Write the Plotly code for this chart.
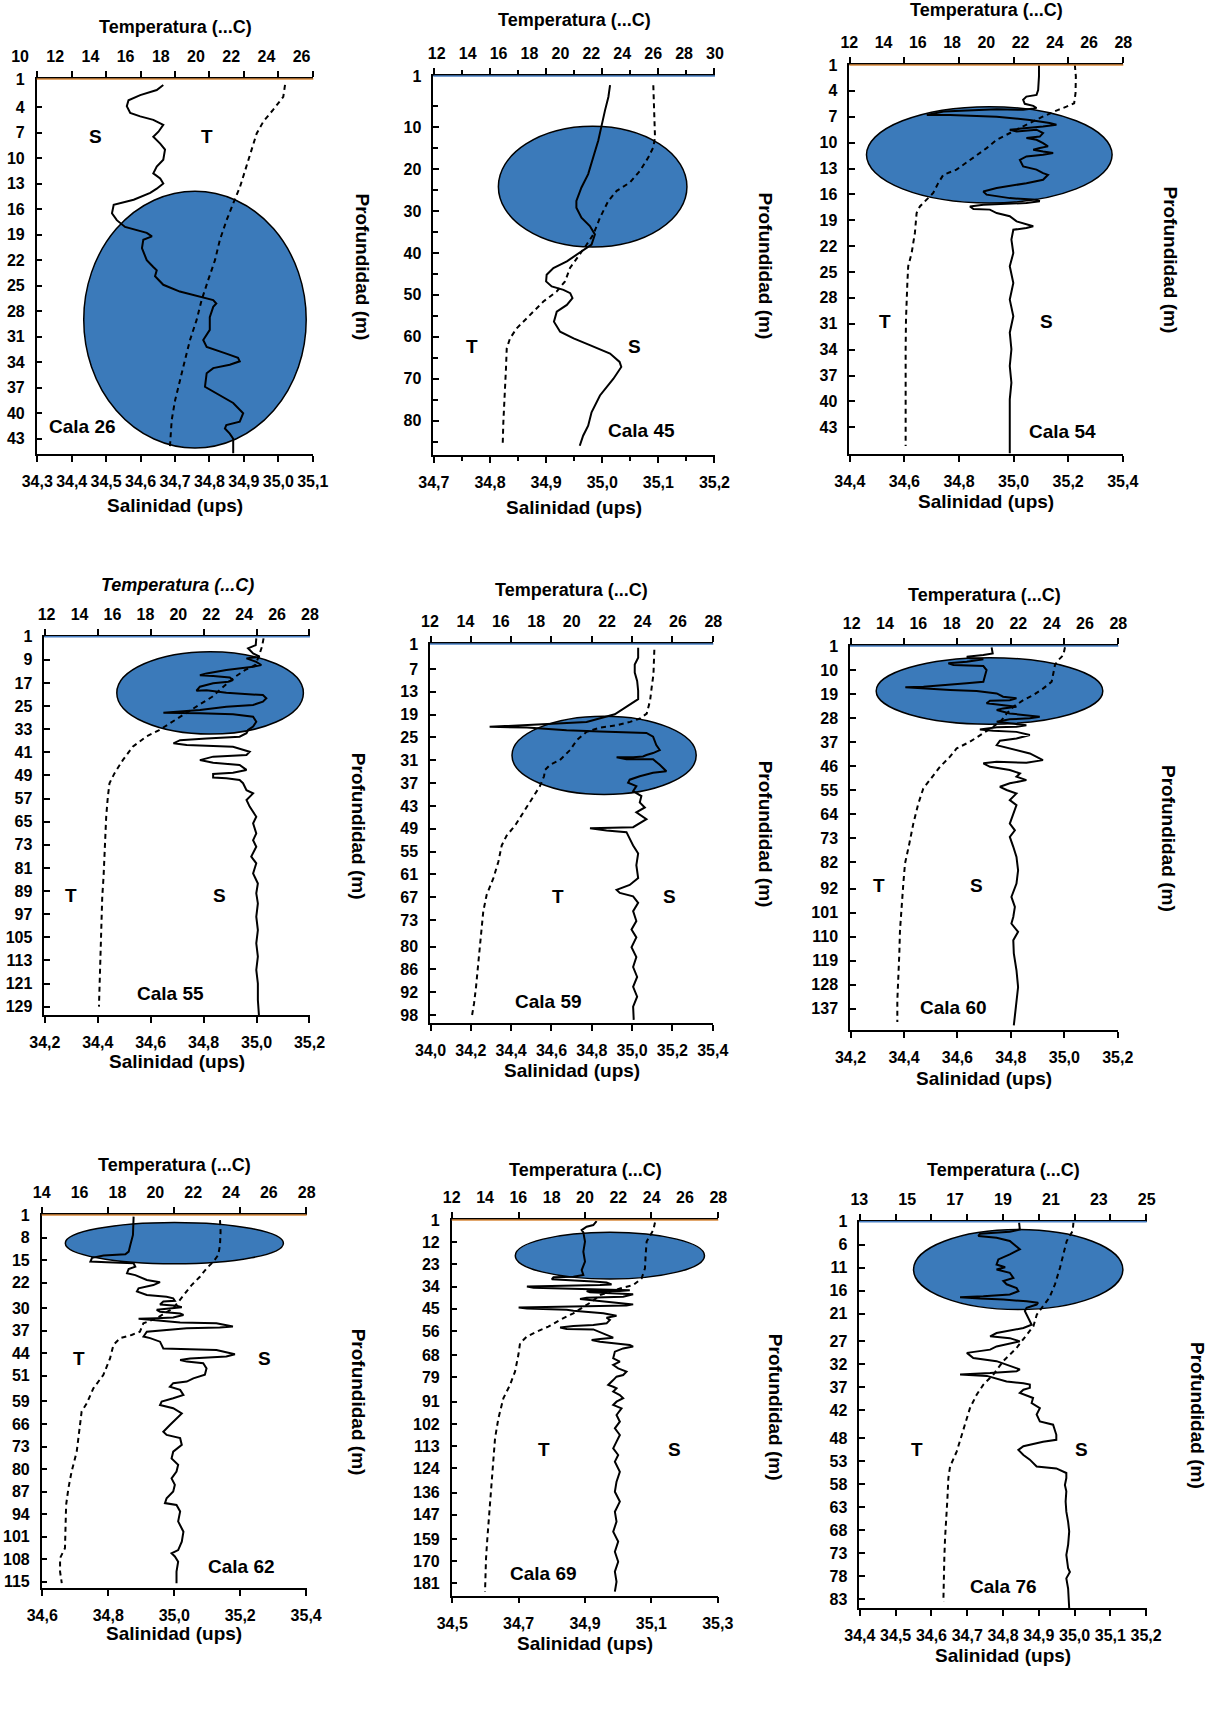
import plotly.graph_objects as go

W, H = 1226, 1717
FONT = "Liberation Sans, Arial, sans-serif"
ELLIPSE_FILL = "#3b7aba"
ORANGE = "#d98a3c"
BLUE = "#4a80c4"

# ---------------- Cala 26 ----------------
C26_SAL_TICKS = [34.3, 34.4, 34.5, 34.6, 34.7, 34.8, 34.9, 35.0, 35.1]
C26_TEMP_TICKS = [10, 12, 14, 16, 18, 20, 22, 24, 26]
C26_DEPTH_LEFT = [1, 4, 7, 10, 13, 16, 19, 22, 25, 28, 31, 34, 37, 40, 43]
C26_DEPTH_RIGHT = [1, 4, 7, 10, 13, 16, 19, 22, 25, 28, 31, 34, 37, 40, 43]
C26_T_TEMP = [25.06, 24.96, 24.39, 23.83, 23.45, 23.16, 22.88, 22.50, 22.12, 21.74, 21.36, 21.08, 20.70, 20.32,
              20.04, 19.66, 19.38, 19.09, 18.81, 18.62, 18.52]
C26_T_DEPTH = [1.4, 2.8, 4.3, 5.7, 7.1, 9.0, 11.0, 13.4, 15.3, 17.3, 19.6, 22.0, 24.3, 26.7, 29.0, 31.4, 33.7,
               36.1, 38.5, 40.8, 43.9]
C26_S_SAL = [34.666, 34.647, 34.599, 34.565, 34.560, 34.570, 34.599, 34.637, 34.666, 34.652, 34.637, 34.657,
             34.671, 34.666, 34.647, 34.637, 34.657, 34.666, 34.647, 34.628, 34.580, 34.522, 34.517, 34.531,
             34.555, 34.589, 34.618, 34.633, 34.608, 34.604, 34.618, 34.637, 34.647, 34.642, 34.666, 34.714,
             34.772, 34.811, 34.820, 34.811, 34.801, 34.801, 34.782, 34.792, 34.849, 34.883, 34.888, 34.859,
             34.811, 34.792, 34.787, 34.820, 34.869, 34.898, 34.888, 34.849, 34.845, 34.859, 34.869, 34.869]
C26_S_DEPTH = [1.4, 2.0, 2.6, 3.2, 3.9, 4.7, 5.1, 5.5, 6.1, 6.9, 7.5, 8.3, 9.0, 10.2, 11.0, 11.8, 12.4, 13.0,
               13.6, 14.1, 14.9, 15.5, 16.5, 17.3, 18.1, 18.5, 18.8, 19.2, 19.6, 20.6, 22.0, 22.8, 23.2, 23.9,
               24.9, 25.7, 26.3, 26.7, 27.1, 27.5, 28.7, 30.2, 31.4, 32.2, 33.0, 33.5, 33.9, 34.3, 34.7, 35.3,
               36.9, 37.7, 38.8, 40.0, 41.0, 41.4, 41.8, 42.4, 43.0, 44.7]
C26_ELLIPSE_SAL = [34.435, 35.081]
C26_ELLIPSE_DEPTH = [13.9, 44.1]

# ---------------- Cala 45 ----------------
C45_SAL_TICKS = [34.7, 34.8, 34.9, 35.0, 35.1, 35.2]
C45_TEMP_TICKS = [12, 14, 16, 18, 20, 22, 24, 26, 28, 30]
C45_DEPTH_LEFT = [1, 10, 20, 30, 40, 50, 60, 70, 80]
C45_DEPTH_RIGHT = [1, 10, 20, 30, 40, 50, 60, 70, 80]
C45_T_TEMP = [26.01, 26.05, 26.07, 26.12, 26.01, 25.69, 25.15, 24.50, 23.64, 23.10, 22.56, 22.13, 21.70, 21.05,
              20.62, 20.30, 19.76, 18.90, 18.03, 17.17, 16.74, 16.53, 16.48, 16.42, 16.35, 16.31, 16.27]
C45_T_DEPTH = [0.0, 3.6, 7.6, 12.4, 14.8, 17.2, 20.4, 23.2, 25.2, 27.6, 31.6, 35.6, 38.0, 41.2, 43.6, 46.8, 49.2,
               51.6, 54.8, 58.0, 60.4, 62.8, 67.6, 71.6, 75.6, 80.4, 85.6]
C45_S_SAL = [35.014, 35.011, 35.005, 34.999, 34.993, 34.984, 34.975, 34.963, 34.954, 34.954, 34.963, 34.978,
             34.987, 34.981, 34.960, 34.937, 34.913, 34.901, 34.900, 34.910, 34.931, 34.943, 34.947, 34.937,
             34.919, 34.914, 34.925, 34.949, 34.978, 35.014, 35.031, 35.034, 35.020, 34.996, 34.981, 34.975,
             34.966, 34.960]
C45_S_DEPTH = [0.0, 2.8, 6.0, 10.0, 13.2, 17.2, 21.2, 24.4, 27.6, 29.2, 31.6, 33.6, 35.6, 38.0, 40.0, 42.0, 43.6,
               45.2, 46.8, 48.0, 48.8, 49.6, 50.8, 52.4, 54.0, 56.4, 58.8, 60.4, 62.0, 64.0, 66.0, 67.2, 70.0,
               74.0, 78.0, 81.2, 83.6, 86.0]
C45_ELLIPSE_SAL = [34.815, 35.151]
C45_ELLIPSE_DEPTH = [9.8, 38.6]

# ---------------- Cala 54 ----------------
C54_SAL_TICKS = [34.4, 34.6, 34.8, 35.0, 35.2, 35.4]
C54_TEMP_TICKS = [12, 14, 16, 18, 20, 22, 24, 26, 28]
C54_DEPTH_LEFT = [1, 4, 7, 10, 13, 16, 19, 22, 25, 28, 31, 34, 37, 40, 43]
C54_DEPTH_RIGHT = [1, 10, 19, 28, 37, 46, 55, 64, 73, 82, 91, 100, 109, 118, 127, 136]
C54_T_TEMP = [25.17, 25.23, 25.21, 25.13, 24.68, 24.20, 23.32, 22.35, 21.38, 20.60, 20.02, 19.04, 18.26, 17.49,
              17.19, 16.90, 16.51, 16.12, 15.93, 15.83, 15.64, 15.44, 15.39, 15.35, 15.31, 15.29, 15.29, 15.29, 15.29]
C54_T_DEPTH = [1.0, 5.0, 10.8, 14.3, 15.5, 16.6, 18.9, 21.8, 24.7, 27.0, 29.9, 34.0, 37.4, 39.2, 42.1, 45.5, 47.9,
               50.2, 52.5, 59.4, 66.4, 71.0, 76.8, 82.6, 89.5, 99.9, 111.5, 123.1, 133.5]
C54_S_SAL = [35.093, 35.093, 35.090, 35.084, 35.047, 35.035, 35.041, 35.072, 35.084, 35.035,
             34.938, 34.743, 34.682, 34.767, 34.938, 35.059, 35.132, 35.157, 35.108, 35.035,
             34.986, 35.011, 35.084, 35.108, 35.096, 35.047, 35.084, 35.108, 35.126, 35.096,
             35.072, 35.108, 35.145, 35.108, 35.047, 35.023, 35.035, 35.084, 35.108, 35.126,
             35.108, 35.047, 34.938, 34.889, 34.901, 34.986, 35.084, 35.096, 35.047, 34.889,
             34.840, 34.853, 34.913, 34.938, 34.986, 35.011, 35.047, 35.072, 35.047, 34.999,
             34.992, 34.999, 34.986, 34.999, 34.986, 34.999, 34.986, 34.992, 34.986, 34.992,
             34.986, 34.986, 34.984, 34.986]
C54_S_DEPTH = [1.0, 5.0, 9.7, 11.4, 12.0, 13.1, 14.5, 15.2, 16.0, 16.6,
               16.4, 17.2, 18.4, 18.4, 19.0, 20.1, 21.2, 21.8, 22.4, 23.0,
               23.5, 24.1, 23.5, 24.7, 25.9, 26.4, 27.0, 28.2, 29.3, 29.9,
               30.5, 31.1, 31.6, 32.2, 32.8, 34.0, 36.3, 37.4, 38.6, 39.2,
               40.9, 42.1, 43.8, 45.0, 46.1, 47.3, 47.9, 48.4, 49.0, 49.6,
               50.2, 51.1, 51.3, 52.5, 53.6, 55.4, 56.5, 57.1, 57.7, 58.3,
               61.7, 66.4, 71.0, 76.8, 82.6, 88.4, 94.1, 99.9, 105.7, 111.5,
               117.3, 123.1, 128.9, 136.0]
C54_ELLIPSE_SAL = [34.461, 35.361]
C54_ELLIPSE_DEPTH = [15.5, 49.0]

# ---------------- Cala 55 ----------------
C55_SAL_TICKS = [34.2, 34.4, 34.6, 34.8, 35.0, 35.2]
C55_TEMP_TICKS = [12, 14, 16, 18, 20, 22, 24, 26, 28]
C55_DEPTH_LEFT = [1, 9, 17, 25, 33, 41, 49, 57, 65, 73, 81, 89, 97, 105, 113, 121, 129]
C55_DEPTH_RIGHT = [1, 9, 17, 25, 33, 41, 49, 57, 65, 73, 81, 89, 97, 105, 113, 121, 129]
C55_T_TEMP = [25.18, 25.08, 24.88, 24.68, 24.07, 23.47, 22.86, 22.06, 21.26, 20.45, 19.65, 18.84, 18.04, 17.23,
              16.63, 16.12, 15.82, 15.72, 15.62, 15.58, 15.52, 15.46, 15.38, 15.34, 15.30, 15.26, 15.22, 15.18]
C55_T_DEPTH = [1.6, 4.5, 7.9, 10.8, 12.5, 14.8, 17.7, 21.8, 24.6, 27.5, 30.4, 33.3, 35.6, 39.1, 43.7, 48.3, 51.7,
               56.4, 63.3, 70.2, 77.1, 84.0, 91.0, 97.9, 104.8, 111.7, 118.6, 129.0]
C55_S_SAL = [34.999, 34.997, 34.968, 34.987, 35.012, 34.962, 34.999, 35.018, 34.987, 34.936,
             34.886, 34.811, 34.786, 34.836, 34.899, 34.911, 34.893, 34.836, 34.786, 34.773,
             34.811, 34.886, 34.974, 35.024, 35.037, 35.024, 34.987, 34.886, 34.786, 34.711,
             34.648, 34.786, 34.911, 34.987, 34.999, 34.987, 34.968, 34.962, 34.936, 34.811,
             34.711, 34.686, 34.736, 34.911, 34.974, 34.962, 34.836, 34.786, 34.836, 34.936,
             34.962, 34.911, 34.836, 34.836, 34.886, 34.936, 34.949, 34.962, 34.987, 34.962,
             34.974, 34.999, 34.987, 34.999, 34.987, 34.999, 34.980, 34.999, 34.987, 35.005,
             34.999, 35.005, 34.999, 35.005, 34.999, 35.005, 34.999, 35.005, 35.005, 35.009]
C55_S_DEPTH = [1.6, 3.9, 5.0, 6.8, 7.9, 8.5, 9.7, 10.8, 11.4, 12.0,
               12.5, 13.7, 14.3, 14.6, 15.1, 16.0, 16.6, 17.1, 18.3, 19.7,
               19.5, 20.4, 20.8, 21.2, 22.3, 23.5, 24.6, 25.2, 26.4, 27.0,
               27.3, 27.5, 27.8, 28.7, 30.4, 32.1, 33.3, 34.4, 35.6, 36.2,
               36.8, 37.9, 38.5, 39.1, 40.8, 41.9, 42.5, 43.7, 44.6, 45.4,
               47.1, 48.1, 48.5, 49.7, 50.0, 50.6, 51.7, 54.1, 55.2, 57.5,
               59.8, 63.3, 65.6, 69.1, 71.4, 73.7, 77.1, 79.4, 82.9, 86.4,
               89.8, 93.3, 97.9, 102.5, 107.1, 111.7, 116.3, 121.0, 126.7, 131.9]
C55_ELLIPSE_SAL = [34.472, 35.177]
C55_ELLIPSE_DEPTH = [6.2, 34.7]

# ---------------- Cala 59 ----------------
C59_SAL_TICKS = [34.0, 34.2, 34.4, 34.6, 34.8, 35.0, 35.2, 35.4]
C59_TEMP_TICKS = [12, 14, 16, 18, 20, 22, 24, 26, 28]
C59_DEPTH_LEFT = [1, 7, 13, 19, 25, 31, 37, 43, 49, 55, 61, 67, 73, 80, 86, 92, 98]
C59_DEPTH_RIGHT = [1, 7, 13, 19, 25, 31, 37, 43, 49, 55, 61, 67, 73, 80, 86, 92, 98]
C59_T_TEMP = [24.67, 24.66, 24.62, 24.52, 24.43, 24.24, 23.86, 23.30, 22.55, 21.60, 20.85, 20.29, 19.91, 19.34,
              18.78, 18.50, 18.44, 18.21, 17.74, 17.27, 16.80, 16.33, 16.05, 15.86, 15.58, 15.20, 15.01, 14.92,
              14.82, 14.73, 14.60, 14.49, 14.35]
C59_T_DEPTH = [1.9, 4.9, 8.4, 11.8, 15.3, 18.7, 20.0, 20.9, 21.8, 22.4, 23.5, 25.7, 28.3, 30.9, 32.2, 33.5, 35.2,
               37.8, 41.3, 44.7, 48.2, 50.8, 53.4, 57.7, 62.0, 66.4, 70.7, 75.0, 80.2, 85.4, 90.6, 94.9, 98.8]
C59_S_SAL = [35.030, 35.030, 35.013, 35.013, 35.025, 35.030, 35.030, 34.972, 34.914, 34.774,
             34.478, 34.293, 34.478, 34.544, 34.675, 34.840, 35.071, 35.104, 35.120, 35.137,
             35.104, 35.071, 35.054, 35.005, 34.923, 34.972, 35.104, 35.137, 35.153, 35.170,
             35.104, 35.038, 34.988, 34.980, 35.021, 35.005, 35.046, 35.038, 35.063, 35.021,
             35.071, 35.005, 34.791, 34.873, 34.972, 34.988, 35.005, 35.030, 35.021, 35.030,
             34.988, 34.923, 34.939, 35.005, 35.030, 35.005, 35.021, 34.997, 35.021, 34.997,
             35.021, 35.005, 35.025, 35.005, 35.025, 35.005, 35.008]
C59_S_DEPTH = [1.4, 4.0, 5.8, 7.9, 10.1, 12.7, 14.9, 17.0, 18.9, 20.9,
               21.8, 22.2, 22.4, 22.6, 23.1, 23.4, 23.8, 24.8, 27.0, 28.3,
               29.1, 29.6, 30.0, 30.2, 30.2, 30.7, 30.7, 32.2, 33.0, 33.9,
               34.3, 35.2, 36.1, 36.9, 37.8, 39.1, 40.4, 42.1, 43.4, 44.7,
               46.5, 48.6, 48.9, 49.5, 49.9, 51.6, 53.4, 55.5, 58.6, 62.0,
               63.8, 65.1, 65.9, 66.8, 68.5, 70.7, 73.3, 75.5, 77.6, 80.2,
               82.8, 85.4, 88.0, 90.6, 93.2, 95.8, 99.3]
C59_ELLIPSE_SAL = [34.404, 35.318]
C59_ELLIPSE_DEPTH = [19.4, 40.0]

# ---------------- Cala 60 ----------------
C60_SAL_TICKS = [34.2, 34.4, 34.6, 34.8, 35.0, 35.2]
C60_TEMP_TICKS = [12, 14, 16, 18, 20, 22, 24, 26, 28]
C60_DEPTH_LEFT = [1, 10, 19, 28, 37, 46, 55, 64, 73, 82, 92, 101, 110, 119, 128, 137]
C60_DEPTH_RIGHT = [1, 10, 19, 28, 37, 46, 55, 64, 73, 82, 92, 101, 110, 119, 128, 137]
C60_T_TEMP = [24.8, 24.7, 24.4, 24.2, 24.1, 24.0, 23.5, 22.9, 22.3, 21.7, 21.3, 21.0, 20.5, 19.9, 19.1, 18.3,
              17.9, 17.3, 16.7, 16.3, 16.0, 15.7, 15.46, 15.2, 15.1, 15.0, 14.9, 14.86, 14.8, 14.74, 14.74]
C60_T_DEPTH = [1.5, 4.4, 6.3, 8.1, 11.3, 14.4, 16.9, 19.4, 21.3, 23.8, 26.3, 28.8, 31.3, 33.8, 36.9, 39.4, 42.5,
               46.3, 51.3, 54.4, 60.1, 67.6, 75.1, 82.6, 90.1, 98.8, 107.6, 116.3, 125.1, 133.9, 142.0]
C60_S_SAL = [34.728, 34.732, 34.697, 34.635, 34.647, 34.697, 34.635, 34.566, 34.585, 34.697,
             34.709, 34.703, 34.697, 34.635, 34.573, 34.473, 34.405, 34.461, 34.573, 34.672,
             34.747, 34.771, 34.821, 34.796, 34.722, 34.709, 34.771, 34.821, 34.771, 34.747,
             34.796, 34.858, 34.908, 34.871, 34.796, 34.747, 34.796, 34.858, 34.821, 34.747,
             34.684, 34.734, 34.821, 34.871, 34.821, 34.759, 34.747, 34.796, 34.871, 34.920,
             34.858, 34.747, 34.697, 34.722, 34.796, 34.834, 34.821, 34.858, 34.796, 34.759,
             34.784, 34.821, 34.796, 34.821, 34.809, 34.796, 34.815, 34.796, 34.809, 34.821,
             34.827, 34.821, 34.802, 34.815, 34.809, 34.802, 34.827, 34.809, 34.811, 34.821,
             34.827, 34.821, 34.811]
C60_S_DEPTH = [1.5, 3.8, 4.4, 5.0, 5.6, 6.0, 6.9, 7.5, 8.1, 8.5,
               10.0, 12.5, 14.4, 15.0, 15.6, 16.3, 16.5, 16.9, 17.5, 17.9,
               18.8, 20.0, 20.6, 21.3, 21.5, 22.5, 23.1, 23.8, 24.4, 25.0,
               26.3, 26.9, 27.5, 28.1, 28.5, 29.4, 30.0, 30.7, 31.3, 31.5,
               32.3, 32.8, 33.2, 34.4, 35.7, 36.5, 38.2, 39.4, 41.3, 43.8,
               44.8, 44.4, 45.0, 46.3, 47.5, 48.8, 50.0, 51.3, 52.5, 53.8,
               55.0, 56.3, 58.8, 60.7, 63.8, 67.6, 70.1, 72.6, 76.3, 80.1,
               85.1, 90.1, 95.1, 98.8, 102.6, 105.1, 108.2, 111.3, 116.3, 122.6,
               128.9, 135.1, 143.3]
C60_ELLIPSE_SAL = [34.296, 35.144]
C60_ELLIPSE_DEPTH = [5.4, 30.3]

# ---------------- Cala 62 ----------------
C62_SAL_TICKS = [34.6, 34.8, 35.0, 35.2, 35.4]
C62_TEMP_TICKS = [14, 16, 18, 20, 22, 24, 26, 28]
C62_DEPTH_LEFT = [1, 8, 15, 22, 30, 37, 44, 51, 59, 66, 73, 80, 87, 94, 101, 108, 115]
C62_DEPTH_RIGHT = [1, 8, 15, 22, 30, 37, 44, 51, 59, 66, 73, 80, 87, 94, 101, 108, 115]
C62_T_TEMP = [23.42, 23.45, 23.42, 23.33, 23.07, 22.71, 22.36, 21.92, 21.57, 21.22, 20.95, 20.07, 19.37, 19.19,
              18.75, 18.14, 17.79, 17.61, 17.26, 16.73, 16.38, 16.11, 15.99, 15.85, 15.58, 15.41, 15.29, 15.25,
              15.23, 14.97, 14.97, 15.06]
C62_T_DEPTH = [2.6, 6.2, 10.3, 13.4, 15.5, 17.6, 20.2, 22.8, 25.4, 27.9, 30.0, 33.1, 34.7, 37.3, 38.3, 39.3, 41.4,
               45.6, 50.7, 54.9, 59.6, 62.1, 68.4, 74.6, 80.8, 86.0, 91.2, 98.4, 104.6, 107.7, 111.9, 115.5]
C62_S_SAL = [34.877, 34.877, 34.875, 34.867, 34.862, 34.852, 34.786, 34.751, 34.746, 34.796,
             34.877, 34.882, 34.862, 34.857, 34.882, 34.917, 34.957, 34.937, 34.892, 34.887,
             34.917, 34.977, 34.997, 35.002, 34.967, 34.957, 35.007, 35.023, 34.987, 34.947,
             34.957, 35.018, 35.028, 34.997, 34.947, 34.892, 34.927, 35.018, 35.128, 35.178,
             35.138, 35.038, 34.917, 34.907, 34.927, 34.957, 34.967, 35.018, 35.128, 35.184,
             35.158, 35.048, 35.018, 35.038, 35.088, 35.098, 35.093, 35.058, 35.038, 34.997,
             34.987, 35.018, 35.028, 34.997, 34.962, 34.957, 34.997, 35.023, 35.007, 34.987,
             34.967, 34.977, 35.018, 35.023, 34.997, 34.992, 35.012, 35.007, 34.992, 35.002,
             34.997, 34.977, 34.972, 35.007, 35.018, 35.012, 35.028, 35.023, 35.012, 34.992,
             35.002, 35.012, 35.007, 35.007]
C62_S_DEPTH = [1.5, 4.1, 7.2, 10.3, 12.4, 13.2, 13.6, 14.3, 15.5, 15.7,
               16.0, 17.1, 17.8, 19.1, 19.7, 21.2, 21.9, 22.8, 23.8, 24.8,
               25.9, 26.4, 26.9, 27.7, 27.9, 28.8, 29.2, 29.7, 30.0, 30.5,
               31.1, 31.6, 32.1, 32.9, 33.1, 33.3, 33.6, 34.4, 34.7, 35.7,
               36.0, 36.2, 37.3, 38.8, 39.3, 40.4, 42.5, 42.7, 43.0, 44.3,
               45.0, 45.6, 46.1, 46.6, 47.1, 48.7, 50.7, 51.8, 52.8, 53.3,
               54.4, 55.4, 57.0, 58.0, 59.0, 60.1, 61.1, 62.7, 64.2, 66.3,
               68.4, 69.4, 70.4, 72.5, 74.6, 76.7, 78.7, 80.8, 82.9, 84.9,
               87.0, 89.1, 90.6, 91.2, 93.2, 96.3, 99.5, 102.6, 105.2, 106.2,
               107.2, 108.8, 111.9, 115.5]
C62_ELLIPSE_SAL = [34.670, 35.331]
C62_ELLIPSE_DEPTH = [3.3, 16.2]

# ---------------- Cala 69 ----------------
C69_SAL_TICKS = [34.5, 34.7, 34.9, 35.1, 35.3]
C69_TEMP_TICKS = [12, 14, 16, 18, 20, 22, 24, 26, 28]
C69_DEPTH_LEFT = [1, 12, 23, 34, 45, 56, 68, 79, 91, 102, 113, 124, 136, 147, 159, 170, 181]
C69_DEPTH_RIGHT = [1, 12, 23, 34, 45, 56, 68, 79, 91, 102, 113, 124, 136, 147, 159, 170, 181]
C69_T_TEMP = [24.2, 24.1, 23.9, 23.7, 23.64, 23.6, 23.4, 22.9, 22.1, 21.5, 20.9, 20.4, 19.8, 19.3, 18.5, 17.8,
              17.1, 16.5, 16.1, 16.0, 15.8, 15.5, 15.1, 14.8, 14.6, 14.5, 14.4, 14.3, 14.2, 14.14, 14.06, 14.0, 14.0]
C69_T_DEPTH = [2.2, 6.0, 8.8, 11.7, 18.3, 24.9, 29.9, 33.2, 34.9, 36.5, 38.2, 41.5, 44.8, 47.2, 50.5, 53.8, 56.3,
               58.8, 62.1, 67.9, 76.1, 82.7, 89.3, 99.3, 109.2, 119.1, 129.0, 138.9, 148.8, 158.7, 168.6, 178.5,
               185.1]
C69_S_SAL = [34.935, 34.925, 34.905, 34.890, 34.895, 34.900, 34.895, 34.900, 34.890, 34.895,
             34.865, 34.805, 34.800, 34.845, 34.905, 34.925, 34.965, 34.980, 34.945, 34.875,
             34.785, 34.725, 34.745, 34.865, 34.945, 34.965, 35.035, 35.005, 34.905, 34.915,
             34.985, 35.045, 35.015, 34.905, 34.885, 34.945, 35.045, 35.025, 34.905, 34.745,
             34.700, 34.725, 34.795, 34.845, 34.865, 34.955, 34.995, 34.965, 34.975, 34.965,
             34.925, 34.865, 34.825, 34.845, 34.925, 34.945, 34.965, 34.985, 34.945, 34.920,
             34.945, 34.985, 35.035, 35.045, 35.015, 34.990, 34.985, 35.005, 34.985, 35.000,
             35.025, 35.015, 34.995, 34.985, 34.970, 34.985, 34.995, 34.985, 35.005, 35.015,
             34.995, 34.985, 35.010, 34.995, 35.005, 34.990, 35.005, 34.995, 34.985, 35.000,
             34.990, 35.005, 34.995, 34.990, 35.005, 34.990, 34.995, 34.985, 35.000, 34.990,
             35.000, 34.990, 34.995, 34.990]
C69_S_DEPTH = [1.5, 3.5, 4.3, 6.0, 7.1, 11.7, 16.7, 21.6, 25.8, 28.2,
               29.1, 29.4, 30.4, 30.7, 31.2, 31.5, 32.0, 32.9, 33.2, 33.5,
               33.9, 34.0, 34.5, 34.9, 35.2, 35.5, 35.8, 36.2, 36.2, 36.8,
               37.3, 37.8, 39.0, 39.5, 40.1, 41.1, 42.8, 43.4, 43.8, 44.1,
               44.4, 44.8, 45.1, 45.4, 45.9, 47.2, 48.4, 49.4, 50.5, 52.2,
               53.0, 53.5, 54.3, 55.0, 55.2, 56.6, 58.3, 59.3, 59.9, 60.4,
               61.3, 62.1, 62.9, 63.7, 64.6, 66.2, 69.5, 71.2, 72.8, 74.5,
               76.1, 77.8, 78.6, 80.3, 82.7, 83.6, 84.4, 86.0, 87.7, 89.3,
               91.0, 92.6, 94.3, 97.6, 100.9, 104.2, 107.5, 110.8, 114.1, 117.4,
               120.7, 125.7, 130.6, 135.6, 140.5, 145.5, 150.4, 155.4, 160.3, 165.3,
               170.3, 175.2, 180.2, 185.1]
C69_ELLIPSE_SAL = [34.690, 35.260]
C69_ELLIPSE_DEPTH = [7.1, 30.2]

# ---------------- Cala 76 ----------------
C76_SAL_TICKS = [34.4, 34.5, 34.6, 34.7, 34.8, 34.9, 35.0, 35.1, 35.2]
C76_TEMP_TICKS = [13, 15, 17, 19, 21, 23, 25]
C76_DEPTH_LEFT = [1, 6, 11, 16, 21, 27, 32, 37, 42, 48, 53, 58, 63, 68, 73, 78, 83]
C76_DEPTH_RIGHT = [1, 6, 11, 16, 21, 27, 32, 37, 42, 48, 53, 58, 63, 68, 73, 78, 83]
C76_T_TEMP = [21.94, 21.91, 21.66, 21.52, 21.38, 21.17, 20.94, 20.62, 20.41, 20.27, 19.99, 19.57, 19.01, 18.60,
              18.18, 17.90, 17.62, 17.41, 17.27, 17.07, 16.79, 16.72, 16.68, 16.62, 16.58, 16.55, 16.54, 16.51]
C76_T_DEPTH = [1.2, 3.0, 5.2, 8.1, 11.0, 14.6, 17.5, 19.7, 21.2, 23.7, 25.5, 28.4, 31.3, 34.2, 36.4, 38.6, 41.5,
               45.1, 48.0, 50.9, 54.2, 56.7, 61.1, 65.4, 69.8, 74.1, 78.5, 83.6]
C76_S_SAL = [34.845, 34.847, 34.819, 34.736, 34.731, 34.782, 34.819, 34.838, 34.847, 34.819,
             34.787, 34.782, 34.806, 34.782, 34.819, 34.829, 34.801, 34.810, 34.838, 34.843,
             34.819, 34.745, 34.680, 34.736, 34.801, 34.866, 34.898, 34.894, 34.866, 34.861,
             34.871, 34.880, 34.857, 34.782, 34.764, 34.819, 34.847, 34.810, 34.782, 34.764,
             34.699, 34.717, 34.782, 34.847, 34.838, 34.764, 34.680, 34.755, 34.810, 34.857,
             34.875, 34.875, 34.857, 34.847, 34.884, 34.880, 34.903, 34.894, 34.903, 34.940,
             34.949, 34.949, 34.912, 34.857, 34.843, 34.857, 34.875, 34.894, 34.949, 34.977,
             34.977, 34.973, 34.977, 34.975, 34.977, 34.982, 34.985, 34.982, 34.977, 34.982,
             34.987, 34.977, 34.982, 34.985]
C76_S_DEPTH = [1.2, 2.7, 3.2, 3.6, 4.1, 4.5, 5.2, 6.3, 7.0, 8.1,
               9.2, 10.3, 10.9, 11.4, 12.1, 13.2, 13.9, 14.6, 15.4, 16.1,
               16.8, 17.2, 17.4, 17.7, 17.9, 18.3, 18.6, 19.0, 19.7, 20.4,
               21.9, 23.4, 24.1, 25.2, 25.9, 26.3, 27.0, 27.6, 28.1, 28.8,
               29.5, 30.6, 31.3, 33.1, 33.5, 33.9, 34.2, 34.5, 35.7, 36.1,
               36.4, 37.1, 37.5, 38.2, 39.3, 40.4, 41.5, 42.9, 44.4, 45.1,
               47.3, 48.4, 48.8, 49.8, 50.6, 51.7, 52.7, 54.2, 54.6, 55.6,
               56.7, 58.2, 59.6, 61.8, 64.0, 66.2, 68.3, 71.2, 73.4, 76.3,
               77.1, 78.5, 80.7, 85.0]
C76_ELLIPSE_SAL = [34.550, 35.135]
C76_ELLIPSE_DEPTH = [2.7, 20.1]

# ---------------- panel layout (pixel boxes, axis calibration, label spots) ----------------
PANELS = [
    dict(name="Cala 26", sal=C26_SAL_TICKS, temp=C26_TEMP_TICKS, dl=C26_DEPTH_LEFT, dr=C26_DEPTH_RIGHT,
         tt=C26_T_TEMP, td=C26_T_DEPTH, ss=C26_S_SAL, sd=C26_S_DEPTH, es=C26_ELLIPSE_SAL, ed=C26_ELLIPSE_DEPTH,
         box=(36.7, 313.3, 79, 454), tedge=(10.947, 26.667), drange=(0.7, 44.8), topc=ORANGE,
         ty=27, sy=505, px=362, lab_s=(34.469, 7.5), lab_t=(34.792, 7.5), lab_c=(34.43, 41.6), italic=False),
    dict(name="Cala 45", sal=C45_SAL_TICKS, temp=C45_TEMP_TICKS, dl=C45_DEPTH_LEFT, dr=C45_DEPTH_RIGHT,
         tt=C45_T_TEMP, td=C45_T_DEPTH, ss=C45_S_SAL, sd=C45_S_DEPTH, es=C45_ELLIPSE_SAL, ed=C45_ELLIPSE_DEPTH,
         box=(433.3, 715, 76, 455), tedge=(11.78, 30.0), drange=(-2.2, 88.2), topc=BLUE,
         ty=20, sy=508, px=765, lab_s=(35.058, 62.4), lab_t=(34.768, 62.4), lab_c=(35.07, 82.4), italic=False),
    dict(name="Cala 54", sal=C54_SAL_TICKS, temp=C54_TEMP_TICKS, dl=C54_DEPTH_LEFT, dr=C54_DEPTH_RIGHT,
         tt=C54_T_TEMP, td=C54_T_DEPTH, ss=C54_S_SAL, sd=C54_S_DEPTH, es=C54_ELLIPSE_SAL, ed=C54_ELLIPSE_DEPTH,
         box=(849.3, 1123.3, 65, 454), tedge=(12.0, 28.0), drange=(1.0, 136.3), topc=ORANGE,
         ty=10, sy=502, px=1170, lab_s=(35.12, 90.1), lab_t=(34.53, 90.1), lab_c=(35.181, 128.3), italic=False),
    dict(name="Cala 55", sal=C55_SAL_TICKS, temp=C55_TEMP_TICKS, dl=C55_DEPTH_LEFT, dr=C55_DEPTH_RIGHT,
         tt=C55_T_TEMP, td=C55_T_DEPTH, ss=C55_S_SAL, sd=C55_S_DEPTH, es=C55_ELLIPSE_SAL, ed=C55_ELLIPSE_DEPTH,
         box=(44.3, 310, 636.7, 1015), tedge=(11.86, 28.0), drange=(1.0, 131.9), topc=BLUE,
         ty=585, sy=1061.7, px=358, lab_s=(34.861, 90.4), lab_t=(34.297, 90.4), lab_c=(34.673, 124.4), italic=True),
    dict(name="Cala 59", sal=C59_SAL_TICKS, temp=C59_TEMP_TICKS, dl=C59_DEPTH_LEFT, dr=C59_DEPTH_RIGHT,
         tt=C59_T_TEMP, td=C59_T_DEPTH, ss=C59_S_SAL, sd=C59_S_DEPTH, es=C59_ELLIPSE_SAL, ed=C59_ELLIPSE_DEPTH,
         box=(430, 713.3, 644, 1023.3), tedge=(12.0, 28.0), drange=(0.4, 100.2), topc=BLUE,
         ty=590, sy=1070, px=765, lab_s=(35.186, 66.8), lab_t=(34.634, 66.8), lab_c=(34.585, 94.5), italic=False),
    dict(name="Cala 60", sal=C60_SAL_TICKS, temp=C60_TEMP_TICKS, dl=C60_DEPTH_LEFT, dr=C60_DEPTH_RIGHT,
         tt=C60_T_TEMP, td=C60_T_DEPTH, ss=C60_S_SAL, sd=C60_S_DEPTH, es=C60_ELLIPSE_SAL, ed=C60_ELLIPSE_DEPTH,
         box=(850, 1118.3, 646, 1030), tedge=(11.9, 28.0), drange=(1.0, 145.0), topc=BLUE,
         ty=595, sy=1078, px=1168, lab_s=(34.672, 90.7), lab_t=(34.306, 90.7), lab_c=(34.585, 136.4), italic=False),
    dict(name="Cala 62", sal=C62_SAL_TICKS, temp=C62_TEMP_TICKS, dl=C62_DEPTH_LEFT, dr=C62_DEPTH_RIGHT,
         tt=C62_T_TEMP, td=C62_T_DEPTH, ss=C62_S_SAL, sd=C62_S_DEPTH, es=C62_ELLIPSE_SAL, ed=C62_ELLIPSE_DEPTH,
         box=(41.7, 306.7, 1215, 1588.3), tedge=(14.0, 28.0), drange=(1.0, 117.1), topc=ORANGE,
         ty=1165, sy=1633, px=358, lab_s=(35.274, 45.6), lab_t=(34.711, 45.6), lab_c=(35.204, 110.3), italic=False),
    dict(name="Cala 69", sal=C69_SAL_TICKS, temp=C69_TEMP_TICKS, dl=C69_DEPTH_LEFT, dr=C69_DEPTH_RIGHT,
         tt=C69_T_TEMP, td=C69_T_DEPTH, ss=C69_S_SAL, sd=C69_S_DEPTH, es=C69_ELLIPSE_SAL, ed=C69_ELLIPSE_DEPTH,
         box=(451.7, 718.3, 1220, 1595.7), tedge=(12.0, 28.0), drange=(1.0, 187.1), topc=ORANGE,
         ty=1170, sy=1643, px=775, lab_s=(35.17, 114.9), lab_t=(34.775, 114.9), lab_c=(34.775, 176.0), italic=False),
    dict(name="Cala 76", sal=C76_SAL_TICKS, temp=C76_TEMP_TICKS, dl=C76_DEPTH_LEFT, dr=C76_DEPTH_RIGHT,
         tt=C76_T_TEMP, td=C76_T_DEPTH, ss=C76_S_SAL, sd=C76_S_DEPTH, es=C76_ELLIPSE_SAL, ed=C76_ELLIPSE_DEPTH,
         box=(859.3, 1146.7, 1221.7, 1608.3), tedge=(13.0, 25.0), drange=(1.0, 85.0), topc=BLUE,
         ty=1170, sy=1655, px=1198, lab_s=(35.019, 50.6), lab_t=(34.56, 50.6), lab_c=(34.801, 80.3), italic=False),
]


def nm(prefix, n):
    return prefix if n == 1 else f"{prefix}{n}"


TICKFONT = dict(family=FONT, size=16, color="black", weight="bold")
fig = go.Figure()
layout = dict(width=W, height=H, margin=dict(l=0, r=0, t=0, b=0, pad=0, autoexpand=False),
              paper_bgcolor="white", plot_bgcolor="rgba(0,0,0,0)", showlegend=False, separators=",.")
shapes, annotations = [], []

for i, p in enumerate(PANELS):
    xs, xt, yl, yr = 2 * i + 1, 2 * i + 2, 2 * i + 1, 2 * i + 2
    L, R, T, B = p["box"]
    ydom = [1 - B / H, 1 - T / H]

    # salinity (bottom) axis, mirrored ticks on the top edge
    st = p["sal"]
    pad = (st[-1] - st[0]) * 0.002
    layout[nm("xaxis", xs)] = dict(
        domain=[L / W, R / W], anchor=nm("y", yl), range=[st[0] - pad, st[-1] + pad], automargin=False,
        tickmode="array", tickvals=st, ticktext=[f"{v:.1f}".replace(".", ",") for v in st],
        ticks="outside", ticklen=6, tickwidth=1.5, tickcolor="black", showline=True, linecolor="black",
        linewidth=1.5, mirror="ticks", showgrid=False, zeroline=False, tickfont=TICKFONT,
        ticklabelstandoff=6)

    # temperature (top) axis
    tlo, thi = p["tedge"]
    ppd = (R - L) / (thi - tlo)
    lo = min(tlo, min(p["temp"]) - 0.05)
    hi = max(thi, max(p["temp"]) + 0.05)
    d0 = max(0.0, (L - (tlo - lo) * ppd) / W)
    d1 = min(1.0, (R + (hi - thi) * ppd) / W)
    layout[nm("xaxis", xt)] = dict(
        domain=[d0, d1], anchor=nm("y", yl), side="top", range=[lo, hi], automargin=False,
        tickmode="array", tickvals=p["temp"], ticktext=[str(v) for v in p["temp"]],
        ticks="", showline=False, showgrid=False, zeroline=False, tickfont=TICKFONT, ticklabelstandoff=13)

    # depth axes (left and right)
    dtop, dbot = p["drange"]
    pos = [float(v) for v in p["dr"]]
    pos[0] = dtop
    left = dict(
        domain=ydom, anchor=nm("x", xs), range=[dbot, dtop], tickmode="array", automargin=False,
        tickvals=pos[:len(p["dl"])], ticktext=[str(v) for v in p["dl"]], ticks="inside", ticklen=6,
        tickwidth=1.5, tickcolor="black", showline=True, linecolor="black", linewidth=1.5,
        showgrid=False, zeroline=False, tickfont=TICKFONT, ticklabelstandoff=7)
    right = dict(
        overlaying=nm("y", yl), anchor=nm("x", xs), side="right", range=[dbot, dtop], tickmode="array",
        tickvals=pos, ticktext=[str(v) for v in p["dr"]], ticks="inside", ticklen=6, tickwidth=1.5,
        tickcolor="black", showline=True, linecolor="black", linewidth=1.5, showgrid=False, automargin=False,
        zeroline=False, tickfont=TICKFONT, ticklabelstandoff=7)
    if p["name"] == "Cala 45":
        right["minor"] = dict(tickmode="linear", tick0=5, dtick=10, ticks="inside", ticklen=5,
                              tickcolor="black")
        left["minor"] = dict(tickmode="linear", tick0=5, dtick=10, ticks="inside", ticklen=5,
                             tickcolor="black")
        layout[nm("xaxis", xs)]["minor"] = dict(tickmode="linear", tick0=34.75, dtick=0.1,
                                                 ticks="outside", ticklen=4, tickcolor="black")
    layout[nm("yaxis", yl)] = left
    layout[nm("yaxis", yr)] = right

    # highlighted layer (ellipse)
    shapes.append(dict(type="circle", xref=nm("x", xs), yref=nm("y", yl), x0=p["es"][0], x1=p["es"][1],
                       y0=p["ed"][0], y1=p["ed"][1], fillcolor=ELLIPSE_FILL,
                       line=dict(color="black", width=1.5), layer="below"))
    # coloured top frame line (as in the scanned original)
    shapes.append(dict(type="line", xref="paper", yref="paper", x0=L / W, x1=R / W, y0=1 - T / H,
                       y1=1 - T / H, line=dict(color=p["topc"], width=1.5), layer="above"))

    # profiles
    fig.add_trace(go.Scatter(x=p["ss"], y=p["sd"], xaxis=nm("x", xs), yaxis=nm("y", yl), mode="lines",
                             line=dict(color="black", width=2), hoverinfo="skip"))
    fig.add_trace(go.Scatter(x=p["tt"], y=p["td"], xaxis=nm("x", xt), yaxis=nm("y", yl), mode="lines",
                             line=dict(color="black", width=2, dash="5px,4px"), hoverinfo="skip"))

    # in-plot labels
    for txt, key in (("S", "lab_s"), ("T", "lab_t"), (p["name"], "lab_c")):
        annotations.append(dict(text=f"<b>{txt}</b>", x=p[key][0], y=p[key][1], xref=nm("x", xs),
                                yref=nm("y", yl), showarrow=False, xanchor="center", yanchor="middle",
                                font=dict(family=FONT, size=19, color="black")))

    # axis titles
    cx = (L + R) / 2 / W
    ttitle = "<b>Temperatura (...C)</b>"
    if p["italic"]:
        ttitle = "<b><i>Temperatura (...C)</i></b>"
    annotations.append(dict(text=ttitle, x=cx, y=1 - p["ty"] / H, xref="paper", yref="paper",
                            showarrow=False, xanchor="center", yanchor="middle",
                            font=dict(family=FONT, size=18, color="black")))
    annotations.append(dict(text="<b>Salinidad (ups)</b>", x=cx, y=1 - p["sy"] / H, xref="paper",
                            yref="paper", showarrow=False, xanchor="center", yanchor="middle",
                            font=dict(family=FONT, size=19, color="black")))
    annotations.append(dict(text="<b>Profundidad (m)</b>", x=p["px"] / W, y=1 - (T + B) / 2 / H,
                            xref="paper", yref="paper", showarrow=False, textangle=90,
                            xanchor="center", yanchor="middle",
                            font=dict(family=FONT, size=19, color="black")))

layout["shapes"] = shapes
layout["annotations"] = annotations
fig.update_layout(**layout)
fig.write_html("out.html", config={"displayModeBar": False},
               post_script="document.body.style.margin='0px';")
